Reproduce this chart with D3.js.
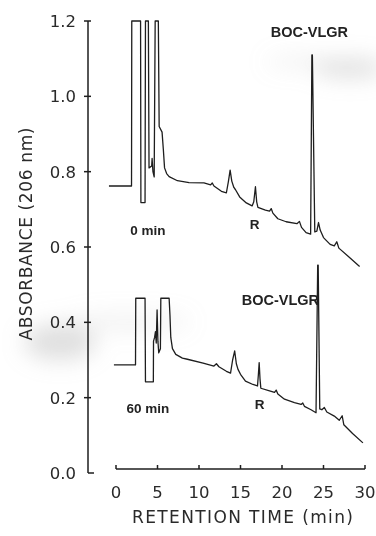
<!DOCTYPE html>
<html>
<head>
<meta charset="utf-8">
<script src="https://cdn.jsdelivr.net/npm/d3@7"></script>
<style>
  html, body { margin: 0; padding: 0; background: #fff; }
  svg { display: block; }
</style>
</head>
<body>
<svg id="chart" width="376" height="536"></svg>
<script>
// chromatogram at 0 min (upper trace)
const topTime = [-0.85, 1.87, 1.9, 2.96, 3.0, 3.5, 3.55, 3.9, 3.98, 4.3, 4.35, 4.45, 4.6, 4.72, 5.1, 5.2, 5.55, 5.7, 5.85, 6.1, 6.4, 7.4, 8.8,
  10.6, 11.4, 11.6, 11.8, 12.7, 13.3, 13.55, 13.75, 13.95, 14.2, 14.4, 14.9, 15.7, 16.4, 16.6, 16.8, 16.95, 17.1, 18.0, 18.5, 18.7, 18.9,
  19.5, 20.5, 21.8, 22.1, 22.35, 22.9, 23.45, 23.6, 23.66, 23.95, 24.2, 24.4, 24.6, 25.0, 25.8, 26.3, 26.6, 26.85, 28.0, 29.35];
const topAbs = [0.762, 0.762, 1.2, 1.2, 0.718, 0.718, 1.2, 1.2, 0.81, 0.815, 0.835, 0.80, 0.786, 1.2, 1.2, 0.92, 0.905, 0.86, 0.81, 0.795, 0.787, 0.776, 0.771,
  0.770, 0.765, 0.770, 0.762, 0.748, 0.744, 0.775, 0.804, 0.775, 0.758, 0.752, 0.733, 0.717, 0.709, 0.72, 0.760, 0.72, 0.705, 0.698, 0.695, 0.702, 0.690,
  0.675, 0.667, 0.662, 0.668, 0.652, 0.638, 0.634, 1.11, 1.11, 0.64, 0.642, 0.665, 0.645, 0.625, 0.607, 0.603, 0.614, 0.597, 0.575, 0.548];

// chromatogram at 60 min (lower trace)
const bottomTime = [-0.25, 2.35, 2.38, 3.5, 3.55, 4.5, 4.52, 4.65, 4.75, 4.85, 4.95, 5.05, 5.15, 5.35, 5.4, 6.4, 6.5, 6.6, 6.8, 7.2, 8.0, 8.6,
  10.5, 11.8, 12.1, 12.4, 13.3, 13.8, 14.05, 14.3, 14.5, 14.7, 15.0, 15.6, 16.5, 17.05, 17.15, 17.25, 17.35, 17.45, 18.5, 19.1, 19.3, 19.5,
  20.3, 21.5, 22.3, 22.5, 22.7, 23.5, 24.1, 24.3, 24.36, 24.55, 24.8, 25.1, 25.4, 26.3, 26.9, 27.25, 27.45, 28.5, 29.75];
const bottomAbs = [0.287, 0.287, 0.464, 0.464, 0.242, 0.242, 0.35, 0.36, 0.375, 0.345, 0.433, 0.35, 0.319, 0.33, 0.464, 0.464, 0.42, 0.36, 0.33, 0.315, 0.305, 0.302,
  0.292, 0.284, 0.29, 0.282, 0.27, 0.265, 0.30, 0.324, 0.29, 0.275, 0.262, 0.244, 0.235, 0.231, 0.26, 0.293, 0.25, 0.225, 0.218, 0.214, 0.22, 0.21,
  0.196, 0.187, 0.182, 0.186, 0.177, 0.168, 0.160, 0.552, 0.552, 0.17, 0.168, 0.174, 0.162, 0.151, 0.14, 0.152, 0.128, 0.105, 0.080];

const yTicks = [0.0, 0.2, 0.4, 0.6, 0.8, 1.0, 1.2];
const xTicks = [0, 5, 10, 15, 20, 25, 30];

// peak labels: [text, time, absorbance]
const labelText = ['BOC-VLGR', '0 min', 'R', 'BOC-VLGR', '60 min', 'R'];
const labelTime = [23.3, 3.85, 16.7, 19.8, 3.85, 17.3];
const labelAbs = [1.172, 0.646, 0.661, 0.461, 0.171, 0.183];

const svg = d3.select('#chart');
const ink = '#1e1e1e';
const axisFont = 'DejaVu Sans, Century Gothic, sans-serif';
const tagFont = 'Liberation Sans, Arial, sans-serif';

const x = d3.scaleLinear().domain([0, 30]).range([116, 365]);
const y = d3.scaleLinear().domain([0, 1.2]).range([473, 21]);

// scanner smudges
const defs = svg.append('defs');
defs.append('filter').attr('id', 'blur').attr('x', '-50%').attr('y', '-50%').attr('width', '200%').attr('height', '200%')
  .append('feGaussianBlur').attr('stdDeviation', 11);
const smudge = svg.append('g').attr('filter', 'url(#blur)');
smudge.append('ellipse').attr('cx', 350).attr('cy', 68).attr('rx', 36).attr('ry', 9).attr('fill', '#aaa').attr('opacity', 0.4);
smudge.append('ellipse').attr('cx', 300).attr('cy', 62).attr('rx', 34).attr('ry', 5).attr('fill', '#bbb').attr('opacity', 0.25);
smudge.append('ellipse').attr('cx', 60).attr('cy', 342).attr('rx', 36).attr('ry', 18).attr('fill', '#aaa').attr('opacity', 0.38);
smudge.append('ellipse').attr('cx', 130).attr('cy', 322).attr('rx', 60).attr('ry', 8).attr('fill', '#bbb').attr('opacity', 0.22);

// y axis
const yAxis = svg.append('g').attr('stroke', ink).attr('stroke-width', 1.5);
yAxis.append('line').attr('x1', 88).attr('x2', 88).attr('y1', y(1.2)).attr('y2', y(0));
yAxis.selectAll('.ytick')
  .data(yTicks)
  .join('line')
  .attr('class', 'ytick')
  .attr('x1', (d) => (d === 0 ? 88 : 84))
  .attr('x2', (d) => (d === 0 ? 94 : 91))
  .attr('y1', (d) => y(d))
  .attr('y2', (d) => y(d));

svg.selectAll('.ylabel')
  .data(yTicks)
  .join('text')
  .attr('class', 'ylabel')
  .attr('x', 76)
  .attr('y', (d) => y(d))
  .attr('dy', '0.36em')
  .attr('text-anchor', 'end')
  .attr('font-family', axisFont)
  .attr('font-size', 16.5)
  .attr('fill', '#2a2a2a')
  .text((d) => d.toFixed(1));

svg.append('text')
  .attr('transform', 'translate(32,234) rotate(-90)')
  .attr('text-anchor', 'middle')
  .attr('font-family', axisFont)
  .attr('font-size', 17)
  .attr('fill', '#2a2a2a')
  .attr('textLength', 213)
  .attr('lengthAdjust', 'spacing')
  .text('ABSORBANCE  (206 nm)');

// x axis
const xAxisY = 469;
const xAxis = svg.append('g').attr('stroke', ink).attr('stroke-width', 1.5);
xAxis.append('line').attr('x1', x(0)).attr('x2', x(30)).attr('y1', xAxisY).attr('y2', xAxisY);
xAxis.selectAll('.xtick')
  .data(xTicks)
  .join('line')
  .attr('class', 'xtick')
  .attr('x1', (d) => x(d))
  .attr('x2', (d) => x(d))
  .attr('y1', xAxisY)
  .attr('y2', xAxisY - 4);

svg.selectAll('.xlabel')
  .data(xTicks)
  .join('text')
  .attr('class', 'xlabel')
  .attr('x', (d) => x(d))
  .attr('y', 498)
  .attr('text-anchor', 'middle')
  .attr('font-family', axisFont)
  .attr('font-size', 16.5)
  .attr('fill', '#2a2a2a')
  .text((d) => d);

svg.append('text')
  .attr('x', 132)
  .attr('y', 523)
  .attr('font-family', axisFont)
  .attr('font-size', 17)
  .attr('fill', '#2a2a2a')
  .attr('textLength', 221)
  .attr('lengthAdjust', 'spacing')
  .text('RETENTION TIME  (min)');

// traces
const line = d3.line()
  .x((d) => x(d[0]))
  .y((d) => y(d[1]));

const topTrace = d3.zip(topTime, topAbs);
const bottomTrace = d3.zip(bottomTime, bottomAbs);

svg.selectAll('.trace')
  .data([topTrace, bottomTrace])
  .join('path')
  .attr('class', 'trace')
  .attr('d', line)
  .attr('fill', 'none')
  .attr('stroke', ink)
  .attr('stroke-width', 1.3)
  .attr('stroke-linejoin', 'round');

// peak / trace labels
svg.selectAll('.tag')
  .data(labelText)
  .join('text')
  .attr('class', 'tag')
  .attr('x', (d, i) => x(labelTime[i]))
  .attr('y', (d, i) => y(labelAbs[i]))
  .attr('dy', '0.36em')
  .attr('text-anchor', 'middle')
  .attr('font-family', tagFont)
  .attr('font-weight', 'bold')
  .attr('font-size', (d) => (d === 'BOC-VLGR' ? 14.5 : 13.5))
  .attr('fill', '#222')
  .text((d) => d);
</script>
</body>
</html>
